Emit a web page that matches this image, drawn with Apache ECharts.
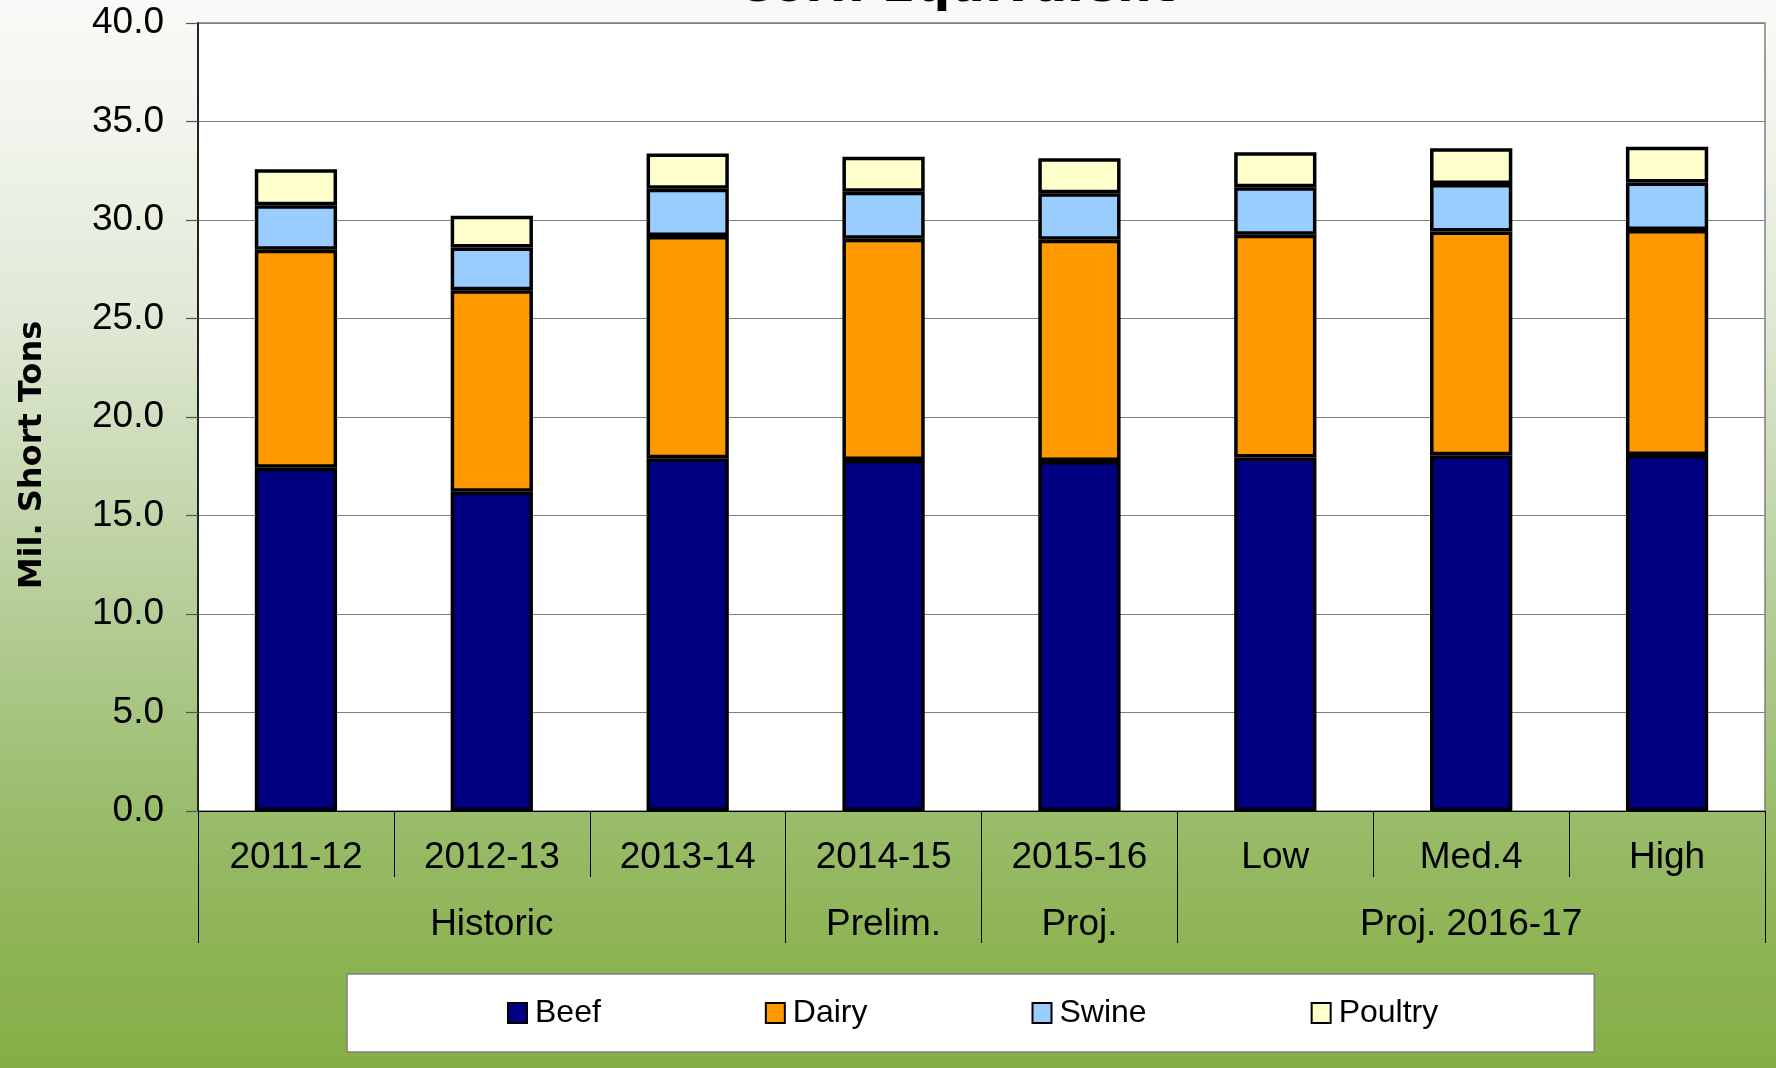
<!DOCTYPE html>
<html>
<head>
<meta charset="utf-8">
<script src="https://cdn.jsdelivr.net/npm/echarts@6/dist/echarts.min.js"></script>
<style>
html,body{margin:0;padding:0;}
#chart{width:1776px;height:1068px;}
</style>
</head>
<body>
<div id="chart"></div>
<script>
// ---- data ----
const categories = ['2011-12','2012-13','2013-14','2014-15','2015-16','Low','Med.4','High'];
const groupNames = ['Historic','Prelim.','Proj.','Proj. 2016-17'];
const groupSpans = [3,1,1,3];
const beef    = [17.43,16.21,17.90,17.82,17.77,17.95,18.06,18.07];
const dairy   = [11.06,10.22,11.29,11.23,11.23,11.30,11.35,11.42];
const swine   = [2.26,2.18,2.40,2.39,2.36,2.41,2.42,2.41];
const poultry = [1.82,1.61,1.79,1.77,1.77,1.78,1.81,1.82];
const yTicks  = [0,5,10,15,20,25,30,35,40];

// group boundaries and centers derived from spans
const groupBounds = [0];
const groupCenters = [];
groupSpans.forEach(function(s){
  const start = groupBounds[groupBounds.length-1];
  groupCenters.push(start + s/2);
  groupBounds.push(start + s);
});

const FONT = '"Liberation Sans", Arial, sans-serif';
const chart = echarts.init(document.getElementById('chart'), null, {renderer:'canvas'});

function barSeries(name, data, color){
  return {
    name: name, type: 'bar', stack: 'total', data: data,
    xAxisIndex: 0, yAxisIndex: 0,
    barWidth: '42%',
    itemStyle: {color: color, borderColor: '#000', borderWidth: 3.5},
    emphasis: {disabled: true}
  };
}

chart.setOption({
  animation: false,
  backgroundColor: {
    type: 'linear', x: 0, y: 0, x2: 0, y2: 1,
    colorStops: [
      {offset: 0, color: '#f9faf7'},
      {offset: 0.1, color: '#f3f6ef'},
      {offset: 0.3, color: '#e0e8d5'},
      {offset: 0.55, color: '#b8cf9c'},
      {offset: 0.75, color: '#9bbd6d'},
      {offset: 0.9, color: '#8cb352'},
      {offset: 1, color: '#86ae47'}
    ]
  },
  title: {
    text: 'Corn Equivalent',
    left: 736, top: -36, padding: 0,
    textStyle: {fontFamily: '"DejaVu Sans", sans-serif', fontWeight: 'bold', fontSize: 49, lineHeight: 49, color: '#000'}
  },
  grid: {
    left: 198, right: 11, top: 23, bottom: 257,
    show: true, backgroundColor: '#ffffff', borderColor: '#808080', borderWidth: 1.5,
    containLabel: false
  },
  legend: {
    data: ['Beef','Dairy','Swine','Poultry'],
    left: 347, top: 974,
    padding: [23, 156, 23, 160],
    backgroundColor: '#ffffff', borderColor: '#808080', borderWidth: 1.5,
    itemWidth: 19, itemHeight: 20, itemGap: 164,
    icon: 'rect',
    itemStyle: {borderColor: '#000', borderWidth: 2},
    textStyle: {fontFamily: FONT, fontSize: 32, color: '#000', padding: [0,0,0,3]}
  },
  xAxis: [
    {
      type: 'category', data: categories, gridIndex: 0, position: 'bottom',
      axisLine: {show: true, lineStyle: {color: '#000', width: 1}},
      axisTick: {show: true, interval: 0, length: 66, lineStyle: {color: '#000', width: 1}},
      axisLabel: {interval: 0, margin: 28, fontFamily: FONT, fontSize: 37, color: '#000'},
      splitLine: {show: false}
    },
    {
      type: 'value', gridIndex: 0, position: 'bottom', min: 0, max: categories.length,
      axisLine: {show: false},
      axisTick: {show: true, customValues: groupBounds, length: 132, lineStyle: {color: '#000', width: 1}},
      axisLabel: {
        show: true, customValues: groupCenters, margin: 95,
        fontFamily: FONT, fontSize: 37, color: '#000',
        formatter: function(v){
          for (let i = 0; i < groupCenters.length; i++) {
            if (Math.abs(groupCenters[i] - v) < 1e-6) return groupNames[i];
          }
          return '';
        }
      },
      splitLine: {show: false}
    }
  ],
  yAxis: {
    type: 'value', min: yTicks[0], max: yTicks[yTicks.length-1], interval: yTicks[1]-yTicks[0],
    name: 'Mil. Short Tons', nameLocation: 'middle', nameGap: 149, nameRotate: 90,
    nameTextStyle: {fontFamily: '"DejaVu Sans", sans-serif', fontWeight: 'bold', fontSize: 32, color: '#000', padding: [0, 76, 0, 0]},
    axisLine: {show: true, lineStyle: {color: '#222', width: 2}},
    axisTick: {show: true, length: 12, lineStyle: {color: '#555', width: 1.2}},
    axisLabel: {margin: 34, fontFamily: FONT, fontSize: 37, color: '#000', formatter: function(v){return v.toFixed(1);}},
    splitLine: {show: true, lineStyle: {color: '#7f7f7f', width: 1.2}}
  },
  series: [
    barSeries('Beef', beef, '#000080'),
    barSeries('Dairy', dairy, '#ff9900'),
    barSeries('Swine', swine, '#99ccff'),
    barSeries('Poultry', poultry, '#ffffcc')
  ]
});
</script>
</body>
</html>
